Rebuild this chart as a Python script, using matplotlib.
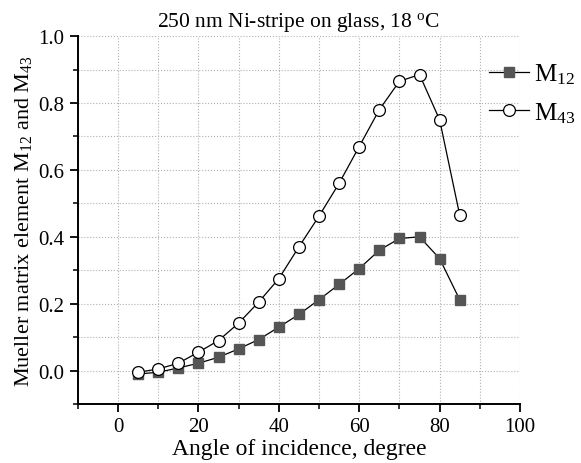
import matplotlib
matplotlib.use("Agg")
import matplotlib.pyplot as plt
from matplotlib.ticker import MultipleLocator

# данные
angle = [5, 10, 15, 20, 25, 30, 35, 40, 45, 50, 55, 60, 65, 70, 75, 80, 85]
m12 = [-0.01, -0.005, 0.008, 0.022, 0.04, 0.065, 0.093, 0.13, 0.168, 0.212,
       0.258, 0.305, 0.36, 0.395, 0.40, 0.335, 0.212]
m43 = [-0.005, 0.005, 0.022, 0.055, 0.09, 0.142, 0.205, 0.275, 0.37, 0.462,
       0.56, 0.67, 0.78, 0.865, 0.885, 0.75, 0.465]

plt.rcParams['font.family'] = ['Liberation Serif', 'DejaVu Serif']
plt.rcParams['mathtext.fontset'] = 'custom'
plt.rcParams['mathtext.rm'] = 'Liberation Serif'
plt.rcParams['mathtext.it'] = 'Liberation Serif'

fig = plt.figure(figsize=(5.81, 4.64), dpi=100)
ax = fig.add_axes([0.134, 0.127, 0.761, 0.793])

ax.plot(angle, m12, color='black', lw=0.9, marker='s', ms=6.5,
        mfc='#555555', mec='#555555', label='M$_{12}$')
ax.plot(angle, m43, color='black', lw=0.9, marker='o', ms=8.5,
        mfc='white', mec='black', mew=0.9, label='M$_{43}$')

ax.set_xlim(-10, 100)
ax.set_ylim(-0.1, 1.0)
ax.xaxis.set_major_locator(MultipleLocator(20))
ax.xaxis.set_minor_locator(MultipleLocator(10))
ax.yaxis.set_major_locator(MultipleLocator(0.2))
ax.yaxis.set_minor_locator(MultipleLocator(0.1))
ax.yaxis.set_major_formatter(matplotlib.ticker.FormatStrFormatter('%.1f'))
ax.grid(which='both', color='#b0b0b0', ls=':', lw=0.8)
ax.set_axisbelow(True)

ax.spines['top'].set_visible(False)
ax.spines['right'].set_visible(False)
ax.spines['left'].set_linewidth(1.4)
ax.spines['bottom'].set_linewidth(1.4)
ax.tick_params(which='major', direction='out', length=6, width=1.3, labelsize=15)
ax.tick_params(which='minor', direction='out', length=3.5, width=1.1)

ax.set_xlabel('Angle of incidence, degree', fontsize=17, labelpad=1)
ax.set_ylabel('Mueller matrix element M$_{12}$ and M$_{43}$', fontsize=16, labelpad=3)
ax.set_title('250 nm Ni-stripe on glass, 18 $^{\\rm o}$C', fontsize=15.5, pad=7)

ax.legend(loc='upper left', bbox_to_anchor=(0.93, 0.93), frameon=False,
          fontsize=18, handlelength=1.6, handletextpad=0.2, labelspacing=0.55,
          borderaxespad=0, borderpad=0)

fig.savefig('out.png', dpi=100)
